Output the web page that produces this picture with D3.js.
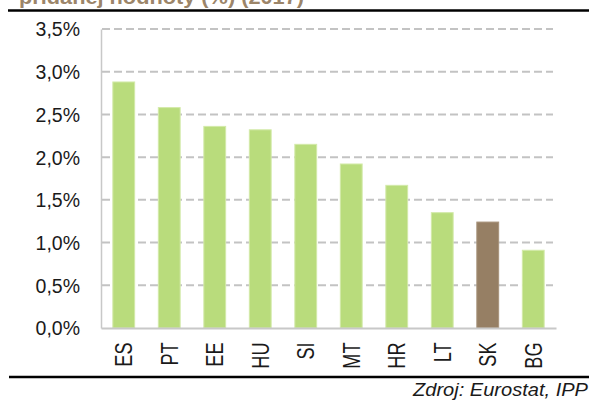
<!DOCTYPE html>
<html>
<head>
<meta charset="utf-8">
<script src="https://cdn.jsdelivr.net/npm/d3@7/dist/d3.min.js"></script>
<style>
  html, body { margin: 0; padding: 0; background: #ffffff; }
  svg { display: block; }
  text { font-family: "Liberation Sans", Arial, sans-serif; }
</style>
</head>
<body>
<svg id="chart" width="589" height="403"></svg>
<script>
// Country codes, values in % and the highlighted country
const countries = ["ES", "PT", "EE", "HU", "SI", "MT", "HR", "LT", "SK", "BG"];
const values = [2.88, 2.58, 2.36, 2.32, 2.15, 1.92, 1.67, 1.35, 1.24, 0.91];
const highlight = ["SK"];
const yTicks = [0, 0.5, 1.0, 1.5, 2.0, 2.5, 3.0, 3.5];
const titleText = "pridanej hodnoty (%) (2017)";
const sourceText = "Zdroj: Eurostat, IPP";

const svg = d3.select("#chart");
const plot = { left: 101, right: 556, top: 29, bottom: 328 };

const x = d3.scaleBand()
  .domain(countries)
  .range([plot.left, plot.right])
  .paddingInner(0.52)
  .paddingOuter(0.26);

const y = d3.scaleLinear()
  .domain([0, 3.5])
  .range([plot.bottom, plot.top]);

const fmt = v => d3.format(".1f")(v).replace(".", ",") + "%";

// Title (runs off the top edge) and rule lines
svg.append("text")
  .attr("x", 19).attr("y", 3.5)
  .attr("font-size", 21).attr("font-weight", "bold")
  .attr("fill", "#9c8569")
  .attr("textLength", 285).attr("lengthAdjust", "spacingAndGlyphs")
  .text(titleText);

svg.append("line")
  .attr("x1", 8).attr("x2", 589).attr("y1", 10.5).attr("y2", 10.5)
  .attr("stroke", "#000").attr("stroke-width", 2.5);

svg.append("line")
  .attr("x1", 9).attr("x2", 589).attr("y1", 377).attr("y2", 377)
  .attr("stroke", "#000").attr("stroke-width", 2.5);

// Dashed horizontal gridlines
svg.append("g")
  .selectAll("line")
  .data(yTicks.filter(d => d > 0))
  .join("line")
  .attr("x1", plot.left + 1).attr("x2", plot.right - 3)
  .attr("y1", d => y(d)).attr("y2", d => y(d))
  .attr("stroke", "#c3c3c3").attr("stroke-width", 2)
  .attr("stroke-dasharray", "8,4");

// Bars
svg.append("g")
  .selectAll("rect")
  .data(countries.map((c, i) => ({ c, v: values[i] })))
  .join("rect")
  .attr("x", d => x(d.c))
  .attr("width", x.bandwidth())
  .attr("y", d => y(d.v))
  .attr("height", d => y(0) - y(d.v))
  .attr("fill", d => highlight.includes(d.c) ? "#967f64" : "#b9dc7c")
  .attr("stroke", d => highlight.includes(d.c) ? "#a8937b" : "#d3eaa9")
  .attr("stroke-width", 1);

// Y axis
const yAxis = svg.append("g")
  .attr("transform", `translate(${plot.left},0)`)
  .call(d3.axisLeft(y).tickValues(yTicks).tickFormat(fmt).tickSize(0).tickPadding(21));
yAxis.select(".domain").attr("stroke", "#c8c8c8").attr("stroke-width", 1.5);
yAxis.selectAll("text")
  .attr("font-size", 19.5).attr("fill", "#1a1a1a")
  .attr("font-family", "'Liberation Sans', Arial, sans-serif")
  .attr("dy", "0.358em");

// X axis
const xAxis = svg.append("g")
  .attr("transform", `translate(0,${plot.bottom})`)
  .call(d3.axisBottom(x).tickSize(0).tickPadding(0));
xAxis.select(".domain").attr("stroke", "#c8c8c8").attr("stroke-width", 1.8);
xAxis.selectAll(".tick text")
  .attr("font-size", 23.5).attr("fill", "#1a1a1a")
  .attr("font-family", "'Liberation Sans', Arial, sans-serif")
  .attr("text-anchor", "end")
  .attr("x", 0).attr("y", 0)
  .attr("dy", "0.358em")
  .attr("transform", "translate(0,14.5) rotate(-90) scale(0.77,1)");

// Source note
svg.append("text")
  .attr("x", 588).attr("y", 396)
  .attr("text-anchor", "end")
  .attr("font-size", 19).attr("font-style", "italic")
  .attr("fill", "#1a1a1a")
  .attr("textLength", 175).attr("lengthAdjust", "spacingAndGlyphs")
  .text(sourceText);
</script>
</body>
</html>
